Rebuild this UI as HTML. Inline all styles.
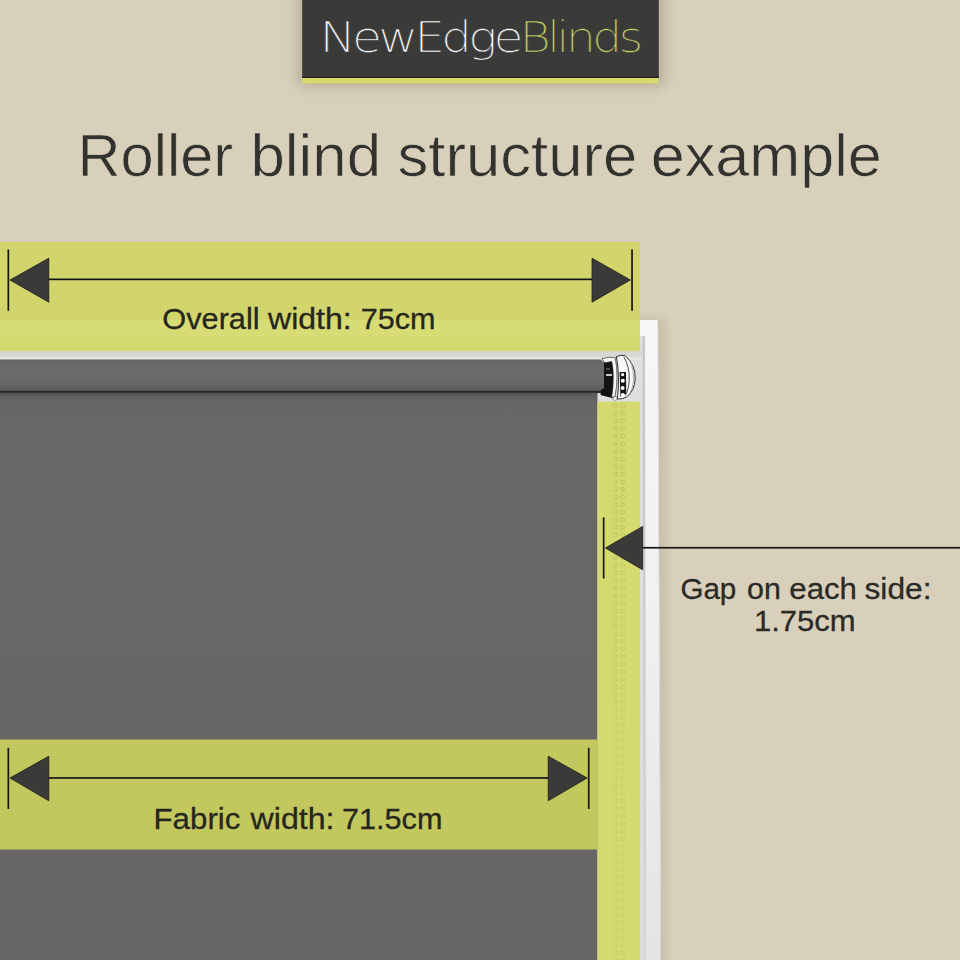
<!DOCTYPE html>
<html lang="en">
<head>
<meta charset="utf-8">
<title>Roller blind structure example</title>
<style>
html,body{margin:0;padding:0;}
body{width:960px;height:960px;overflow:hidden;background:#d9d0bb;font-family:"Liberation Sans",Arial,Helvetica,sans-serif;}
svg{display:block;position:absolute;left:0;top:0;}
text{font-family:"Liberation Sans",Arial,Helvetica,sans-serif;}
.logo{font-family:"DejaVu Sans Light","DejaVu Sans","Liberation Sans",sans-serif;font-weight:200;}
</style>
</head>
<body>
<svg width="960" height="960" viewBox="0 0 960 960">
  <defs>
    <linearGradient id="tube" x1="0" y1="359.5" x2="0" y2="393" gradientUnits="userSpaceOnUse">
      <stop offset="0" stop-color="#5e5e5c"/>
      <stop offset="0.05" stop-color="#6a6968"/>
      <stop offset="0.6" stop-color="#6b6a69"/>
      <stop offset="0.85" stop-color="#61605f"/>
      <stop offset="0.93" stop-color="#555554"/>
      <stop offset="0.955" stop-color="#262626"/>
      <stop offset="1" stop-color="#1e1e1e"/>
    </linearGradient>
    <linearGradient id="strip" x1="0" y1="351" x2="0" y2="360" gradientUnits="userSpaceOnUse">
      <stop offset="0" stop-color="#d3d6d0"/>
      <stop offset="0.6" stop-color="#d8dad6"/>
      <stop offset="0.85" stop-color="#e8e8e8"/>
      <stop offset="1" stop-color="#e4e4e4"/>
    </linearGradient>
    <linearGradient id="fabric" x1="0" y1="392.5" x2="0" y2="960" gradientUnits="userSpaceOnUse">
      <stop offset="0" stop-color="#4a4a49"/>
      <stop offset="0.005" stop-color="#5e5d5c"/>
      <stop offset="0.014" stop-color="#676665"/>
      <stop offset="0.05" stop-color="#696867"/>
      <stop offset="1" stop-color="#676665"/>
    </linearGradient>
    <linearGradient id="frameV" x1="0" y1="336" x2="0" y2="960" gradientUnits="userSpaceOnUse">
      <stop offset="0" stop-color="#f6f6f7"/>
      <stop offset="0.4" stop-color="#f1f1f2"/>
      <stop offset="1" stop-color="#e4e4e4"/>
    </linearGradient>
    <linearGradient id="recessV" x1="0" y1="336" x2="0" y2="960" gradientUnits="userSpaceOnUse">
      <stop offset="0" stop-color="#dfdfdf"/>
      <stop offset="1" stop-color="#dcdcd9"/>
    </linearGradient>
    <linearGradient id="lineV" x1="0" y1="336" x2="0" y2="960" gradientUnits="userSpaceOnUse">
      <stop offset="0" stop-color="#c6c6ca"/>
      <stop offset="0.5" stop-color="#cbcbce"/>
      <stop offset="1" stop-color="#d6d6d6"/>
    </linearGradient>
    <linearGradient id="beadFadeG" x1="0" y1="402" x2="0" y2="960" gradientUnits="userSpaceOnUse">
      <stop offset="0" stop-color="#fff"/>
      <stop offset="0.25" stop-color="#ddd"/>
      <stop offset="0.6" stop-color="#999"/>
      <stop offset="1" stop-color="#888"/>
    </linearGradient>
    <mask id="beadFade" maskUnits="userSpaceOnUse" x="600" y="400" width="40" height="560"><rect x="600" y="400" width="40" height="560" fill="url(#beadFadeG)"/></mask>
    <filter id="blur6" x="-20%" y="-40%" width="140%" height="180%"><feGaussianBlur stdDeviation="7"/></filter>
    <filter id="blur5" x="-80%" y="-10%" width="260%" height="120%"><feGaussianBlur stdDeviation="5"/></filter>
    <pattern id="beads" x="607" y="402" width="20" height="7.6" patternUnits="userSpaceOnUse">
      <circle cx="8.6" cy="3.8" r="1.7" fill="#dde180" stroke="#b3b84e" stroke-width="0.9"/>
      <circle cx="15.8" cy="3.8" r="1.7" fill="#dde180" stroke="#b3b84e" stroke-width="0.9"/>
    </pattern>
  </defs>

  <!-- wall -->
  <rect x="0" y="0" width="960" height="960" fill="#d9d0bb"/>

  <!-- logo plate -->
  <rect x="298" y="-12" width="366" height="98" fill="#6b6350" opacity="0.33" filter="url(#blur6)"/>
  <rect x="302.2" y="0" width="356.6" height="78" fill="#3a3a39"/>
  <rect x="302.2" y="76.8" width="356.6" height="1.2" fill="#1f1f1e"/>
  <rect x="302.2" y="78" width="356.6" height="5.4" fill="#d5da6a"/>
  <text class="logo" y="52" font-size="42" stroke="#3a3a39" stroke-width="0.55" style="letter-spacing:-3.4px"><tspan x="319.5" fill="#ffffff" textLength="200" lengthAdjust="spacingAndGlyphs">NewEdge</tspan><tspan x="519.5" fill="#c3cd63" textLength="120" lengthAdjust="spacingAndGlyphs">Blinds</tspan></text>

  <!-- title -->
  <text y="175.6" font-size="59.4" fill="#32322e" stroke="#d9d0bb" stroke-width="0.7"><tspan x="77.6" textLength="155.6" lengthAdjust="spacingAndGlyphs">Roller</tspan> <tspan x="250.4" textLength="130.8" lengthAdjust="spacingAndGlyphs">blind</tspan> <tspan x="397.5" textLength="239.8" lengthAdjust="spacingAndGlyphs">structure</tspan> <tspan x="650.8" textLength="231" lengthAdjust="spacingAndGlyphs">example</tspan></text>

  <!-- frame shadow on wall -->
  <rect x="636" y="318" width="30" height="660" fill="#9b927e" opacity="0.28" filter="url(#blur5)"/>
  <!-- window frame -->
  <polygon points="0,320 658,320 661,960 0,960" fill="#f6f6f7"/>
  <rect x="0" y="336" width="646" height="624" fill="url(#recessV)"/>
  <polygon points="642.6,336 645,336 646.2,960 644,960" fill="url(#lineV)"/>
  <polygon points="645,336 658,336 661,960 646.2,960" fill="url(#frameV)"/>
  <polygon points="657.4,320 658,320 661,960 660.2,960" fill="#c9c9c9" opacity="0.6"/>

  <!-- roller tube -->
  <rect x="0" y="351" width="642.6" height="9" fill="url(#strip)"/>
  <path d="M0,359.6 L600.5,359.6 L605.5,363.8 L605.5,376 Q605,386 602.5,393 L0,393 Z" fill="url(#tube)"/>
  <!-- fabric -->
  <rect x="0" y="392.5" width="597.5" height="567.5" fill="url(#fabric)"/>

  <!-- side gap (yellow) -->
  <rect x="597.5" y="401.5" width="42.5" height="558.5" fill="#d5da6f"/>
  <rect x="607" y="402" width="20" height="558" fill="url(#beads)" mask="url(#beadFade)"/>
  <!-- overall band -->
  <rect x="0" y="242" width="639.7" height="109" fill="#d1d56c"/>
  <rect x="0" y="320" width="639.7" height="16" fill="#d7dc74"/>
  <rect x="0" y="336" width="639.7" height="15" fill="#d4d96d"/>
  <!-- fabric band -->
  <rect x="0" y="739.5" width="597.5" height="110" fill="#c3c85e"/>

  <!-- bracket -->
  <g>
    <path d="M604,362 L613,359.5 L614,398.5 L600.5,395 L601,390 L604,388 Z" fill="#121212"/>
    <rect x="606" y="374.2" width="6" height="1.6" fill="#f0f0f0"/>
    <rect x="606" y="368.5" width="4" height="1" fill="#777"/>
    <path d="M602,358.6 Q609,356.6 615.2,357.6 Q619,377 615,396.5 L611.6,397.6 Q615,377 611.8,361.6 L604.6,362.8 Z" fill="#f7f7f7" stroke="#2c2c2c" stroke-width="0.7"/>
    <path d="M616.4,356.6 Q621,354.6 625,355.6 Q635.8,365 635.2,379 Q634.6,391 626.5,397 Q622,399.6 617.4,399 Q620,377 616.4,356.6 Z" fill="#f8f8f8" stroke="#2e2e2e" stroke-width="1"/>
    <path d="M623.8,356.8 Q629.8,367 629.2,380 Q628.7,390 625.2,395.5" fill="none" stroke="#4a4a4a" stroke-width="1"/>
    <path d="M631,362 Q634,371 633.4,381 Q633,388 630,393" fill="none" stroke="#9a9a9a" stroke-width="0.8"/>
    <path d="M619.6,372 L626,372 L626.2,393.5 L620.4,397 Z" fill="#131313"/>
    <circle cx="622.6" cy="374.6" r="1.6" fill="#fff"/>
    <circle cx="622.8" cy="380.8" r="2" fill="#fff"/>
    <circle cx="622.6" cy="388" r="2" fill="#fff"/>
    <circle cx="622.8" cy="395" r="2" fill="#fff"/>
    <circle cx="615" cy="398.5" r="2" fill="#f6f6f6" stroke="#555" stroke-width="0.5"/>
  </g>

  <!-- arrows: overall -->
  <g fill="#161614" stroke="none">
    <rect x="7.5" y="249.4" width="1.7" height="61.4"/>
    <rect x="631.2" y="249.4" width="1.7" height="61.4"/>
    <rect x="48" y="278.5" width="545" height="1.7"/>
  </g>
  <g fill="#3a3a38" stroke="#1e1e1c" stroke-width="0.8" stroke-linejoin="miter">
    <polygon points="10,280 48.8,258.2 48.8,302.2"/>
    <polygon points="630.4,280 592,258.2 592,302.2"/>
  </g>
  <text y="329.4" font-size="30" fill="#26261e" stroke="#26261e" stroke-width="0.3"><tspan x="162.3" textLength="97.3" lengthAdjust="spacingAndGlyphs">Overall</tspan> <tspan x="268" textLength="83.7" lengthAdjust="spacingAndGlyphs">width:</tspan> <tspan x="360.7" textLength="74.7" lengthAdjust="spacingAndGlyphs">75cm</tspan></text>

  <!-- arrows: fabric -->
  <g fill="#161614" stroke="none">
    <rect x="7.5" y="747.8" width="1.7" height="61.2"/>
    <rect x="587.9" y="747.8" width="1.7" height="61.2"/>
    <rect x="48" y="777.1" width="501" height="1.7"/>
  </g>
  <g fill="#3a3a38" stroke="#1e1e1c" stroke-width="0.8" stroke-linejoin="miter">
    <polygon points="10,778 48.8,756.2 48.8,800.8"/>
    <polygon points="587.2,778 548.2,756.2 548.2,800.8"/>
  </g>
  <text y="828.8" font-size="30" fill="#26261e" stroke="#26261e" stroke-width="0.3"><tspan x="153.5" textLength="86.9" lengthAdjust="spacingAndGlyphs">Fabric</tspan> <tspan x="250.6" textLength="83.9" lengthAdjust="spacingAndGlyphs">width:</tspan> <tspan x="342" textLength="100.4" lengthAdjust="spacingAndGlyphs">71.5cm</tspan></text>

  <!-- gap arrow -->
  <g fill="#161614" stroke="none">
    <rect x="602.8" y="517.3" width="1.7" height="61.2"/>
    <rect x="642" y="546.9" width="318" height="1.7"/>
  </g>
  <g fill="#3a3a38" stroke="#1e1e1c" stroke-width="0.8" stroke-linejoin="miter">
    <polygon points="605.4,548 642.6,526.4 642.6,569.8"/>
  </g>
  <text y="598.5" font-size="30" fill="#2a2a26" stroke="#2a2a26" stroke-width="0.3"><tspan x="680.4" textLength="55.9" lengthAdjust="spacingAndGlyphs">Gap</tspan> <tspan x="747" textLength="33.8" lengthAdjust="spacingAndGlyphs">on</tspan> <tspan x="789.3" textLength="67.6" lengthAdjust="spacingAndGlyphs">each</tspan> <tspan x="864.5" textLength="67" lengthAdjust="spacingAndGlyphs">side:</tspan></text>
  <text y="630.5" font-size="30" fill="#2a2a26" stroke="#2a2a26" stroke-width="0.3"><tspan x="753.9" textLength="101.8" lengthAdjust="spacingAndGlyphs">1.75cm</tspan></text>
</svg>
</body>
</html>
